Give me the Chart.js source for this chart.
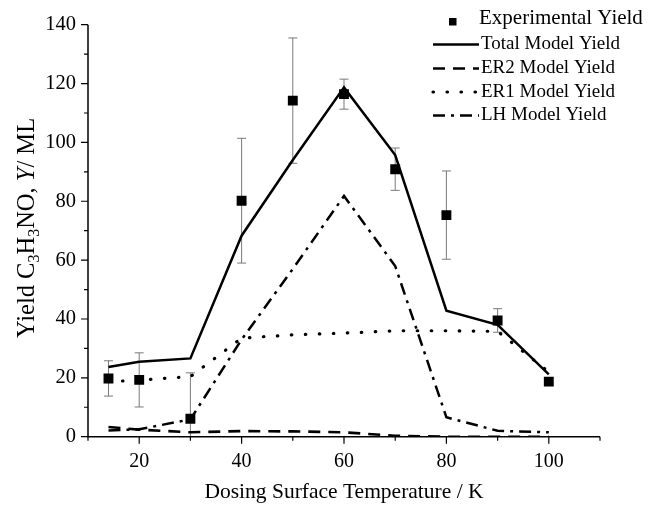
<!DOCTYPE html>
<html>
<head>
<meta charset="utf-8">
<script src="https://cdn.jsdelivr.net/npm/chart.js@4/dist/chart.umd.min.js"></script>
<style>
  body { margin: 0; background: #fff; }
  canvas { display: block; }
</style>
</head>
<body>
<canvas id="yieldChart" width="667" height="505"></canvas>
<script>
const temps = [14, 20, 30, 40, 50, 60, 70, 80, 90, 100];
const expYield = [19.8, 19.3, 6.1, 80.2, 114.2, 116.4, 90.9, 75.3, 39.5, 18.7];
const expError = [6, 9.2, 15.6, 21.2, 21.3, 5.1, 7.2, 15, 4, 0];
const totalModel = [23.7, 25.5, 26.6, 68.3, 94, 118.7, 95.7, 42.8, 38, 21.2];
const er2Model = [3.3, 2.4, 1.5, 1.9, 1.8, 1.5, 0.3, 0, 0, 0];
const er1Model = [18.7, 19.2, 20.4, 33.5, 34.6, 35.2, 36, 36, 35.8, 22];
const lhModel = [2.1, 2.5, 5.9, 33, 57, 81.8, 58, 6.6, 2, 1.5];

const FONT = "'Liberation Serif', 'Times New Roman', serif";

const pts = (ys) => temps.map((t, i) => ({ x: t, y: ys[i] }));

const lineSet = (label, ys, dash, cap, width) => ({
  type: "line",
  label: label,
  data: pts(ys),
  borderColor: "#000",
  borderWidth: width,
  borderDash: dash,
  borderCapStyle: cap,
  pointRadius: 0,
  fill: false,
  tension: 0,
});

const datasets = [
  {
    type: "scatter",
    label: "Experimental Yield",
    data: pts(expYield),
    pointStyle: "rect",
    pointRadius: 7,
    pointBackgroundColor: "#000",
    pointBorderWidth: 0,
    showLine: false,
  },
  lineSet("Total Model Yield", totalModel, [], "butt", 2.5),
  lineSet("ER2 Model Yield", er2Model, [12, 8], "butt", 2.6),
  lineSet("ER1 Model Yield", er1Model, [0.5, 13.5], "round", 3.2),
  lineSet("LH Model Yield", lhModel, [12, 6, 3, 6], "butt", 2.5),
];

// error bars under the squares
const errorBars = {
  id: "errorBars",
  beforeDatasetsDraw(chart) {
    const { ctx, chartArea, scales } = chart;
    ctx.save();
    ctx.beginPath();
    ctx.rect(chartArea.left, chartArea.top - 10, chartArea.right - chartArea.left, chartArea.bottom - chartArea.top + 10);
    ctx.clip();
    ctx.strokeStyle = "#7a7a7a";
    ctx.lineWidth = 1;
    temps.forEach((t, i) => {
      if (!expError[i]) return;
      const x = scales.x.getPixelForValue(t);
      const yTop = scales.y.getPixelForValue(expYield[i] + expError[i]);
      const yBot = scales.y.getPixelForValue(expYield[i] - expError[i]);
      ctx.beginPath();
      ctx.moveTo(x, yTop);
      ctx.lineTo(x, yBot);
      ctx.moveTo(x - 4.5, yTop);
      ctx.lineTo(x + 4.5, yTop);
      ctx.moveTo(x - 4.5, yBot);
      ctx.lineTo(x + 4.5, yBot);
      ctx.stroke();
    });
    ctx.restore();
  },
};

// axes lines, ticks, titles and legend
const decorations = {
  id: "decorations",
  afterDatasetsDraw(chart) {
    const { ctx, chartArea, scales } = chart;
    const xs = scales.x, ys = scales.y;
    ctx.save();
    ctx.strokeStyle = "#000";
    ctx.lineWidth = 1.5;
    ctx.beginPath();
    ctx.moveTo(chartArea.left, chartArea.top);
    ctx.lineTo(chartArea.left, chartArea.bottom);
    ctx.lineTo(chartArea.right, chartArea.bottom);
    ctx.stroke();

    ctx.lineWidth = 1.2;
    ctx.beginPath();
    for (let v = 0; v <= 140; v += 10) {
      const y = ys.getPixelForValue(v);
      const len = v % 20 === 0 ? 7 : 4;
      ctx.moveTo(chartArea.left, y);
      ctx.lineTo(chartArea.left - len, y);
    }
    for (let v = 10; v <= 110; v += 10) {
      const x = xs.getPixelForValue(v);
      const len = v % 20 === 0 ? 7 : 4;
      ctx.moveTo(x, chartArea.bottom);
      ctx.lineTo(x, chartArea.bottom + len);
    }
    ctx.stroke();
    ctx.restore();
  },
  afterDraw(chart) {
    const { ctx, chartArea } = chart;
    ctx.save();
    ctx.fillStyle = "#000";

    // x title
    ctx.font = "21.5px " + FONT;
    ctx.textAlign = "center";
    ctx.textBaseline = "middle";
    ctx.fillText("Dosing Surface Temperature / K", (chartArea.left + chartArea.right) / 2, 492);

    // y title with subscripts
    const parts = [
      { t: "Yield C", f: "24.5px " + FONT, dy: 0 },
      { t: "3", f: "16px " + FONT, dy: 5 },
      { t: "H", f: "24.5px " + FONT, dy: 0 },
      { t: "3", f: "16px " + FONT, dy: 5 },
      { t: "NO, ", f: "24.5px " + FONT, dy: 0 },
      { t: "Y", f: "italic 24.5px " + FONT, dy: 0 },
      { t: "/ ML", f: "24.5px " + FONT, dy: 0 },
    ];
    let total = 0;
    parts.forEach((p) => { ctx.font = p.f; p.w = ctx.measureText(p.t).width; total += p.w; });
    ctx.translate(25, 228);
    ctx.rotate(-Math.PI / 2);
    ctx.textAlign = "left";
    ctx.textBaseline = "alphabetic";
    let cx = -total / 2;
    parts.forEach((p) => {
      ctx.font = p.f;
      ctx.fillText(p.t, cx, 8.5 + p.dy);
      cx += p.w;
    });
    ctx.setTransform(1, 0, 0, 1, 0, 0);

    // legend
    ctx.textAlign = "left";
    ctx.textBaseline = "middle";
    ctx.fillRect(449, 18, 7.5, 7.5);
    ctx.font = "21px " + FONT;
    ctx.fillText("Experimental Yield", 479, 18);
    const rows = [
      { ds: datasets[1], y: 44.5 },
      { ds: datasets[2], y: 68.5 },
      { ds: datasets[3], y: 92 },
      { ds: datasets[4], y: 115.5 },
    ];
    ctx.font = "19px " + FONT;
    rows.forEach((r) => {
      ctx.save();
      ctx.strokeStyle = "#000";
      ctx.lineWidth = r.ds.borderWidth;
      ctx.lineCap = r.ds.borderCapStyle;
      ctx.setLineDash(r.ds.borderDash);
      ctx.beginPath();
      ctx.moveTo(433, r.y);
      ctx.lineTo(479, r.y);
      ctx.stroke();
      ctx.restore();
      ctx.fillText(r.ds.label, 481, r.y);
    });
    ctx.restore();
  },
};

new Chart(document.getElementById("yieldChart"), {
  type: "line",
  data: { datasets: datasets },
  options: {
    responsive: false,
    animation: false,
    devicePixelRatio: 1,
    layout: { padding: { left: 0, top: 24.7, right: 67, bottom: 0 } },
    plugins: { legend: { display: false }, tooltip: { enabled: false } },
    scales: {
      x: {
        type: "linear",
        min: 10,
        max: 110,
        grid: { display: false, drawTicks: false },
        border: { display: false },
        afterFit: (scale) => { scale.height = 68.3; },
        ticks: {
          stepSize: 10,
          autoSkip: false,
          maxRotation: 0,
          padding: 13,
          color: "#000",
          font: { family: FONT, size: 20 },
          callback: (v) => (v % 20 === 0 && v >= 20 && v <= 100 ? v : ""),
        },
      },
      y: {
        min: 0,
        max: 140,
        grid: { display: false, drawTicks: false },
        border: { display: false },
        afterFit: (scale) => { scale.width = 88; },
        ticks: {
          stepSize: 20,
          padding: 12,
          color: "#000",
          font: { family: FONT, size: 20.5 },
        },
      },
    },
  },
  plugins: [errorBars, decorations],
});
</script>
</body>
</html>
